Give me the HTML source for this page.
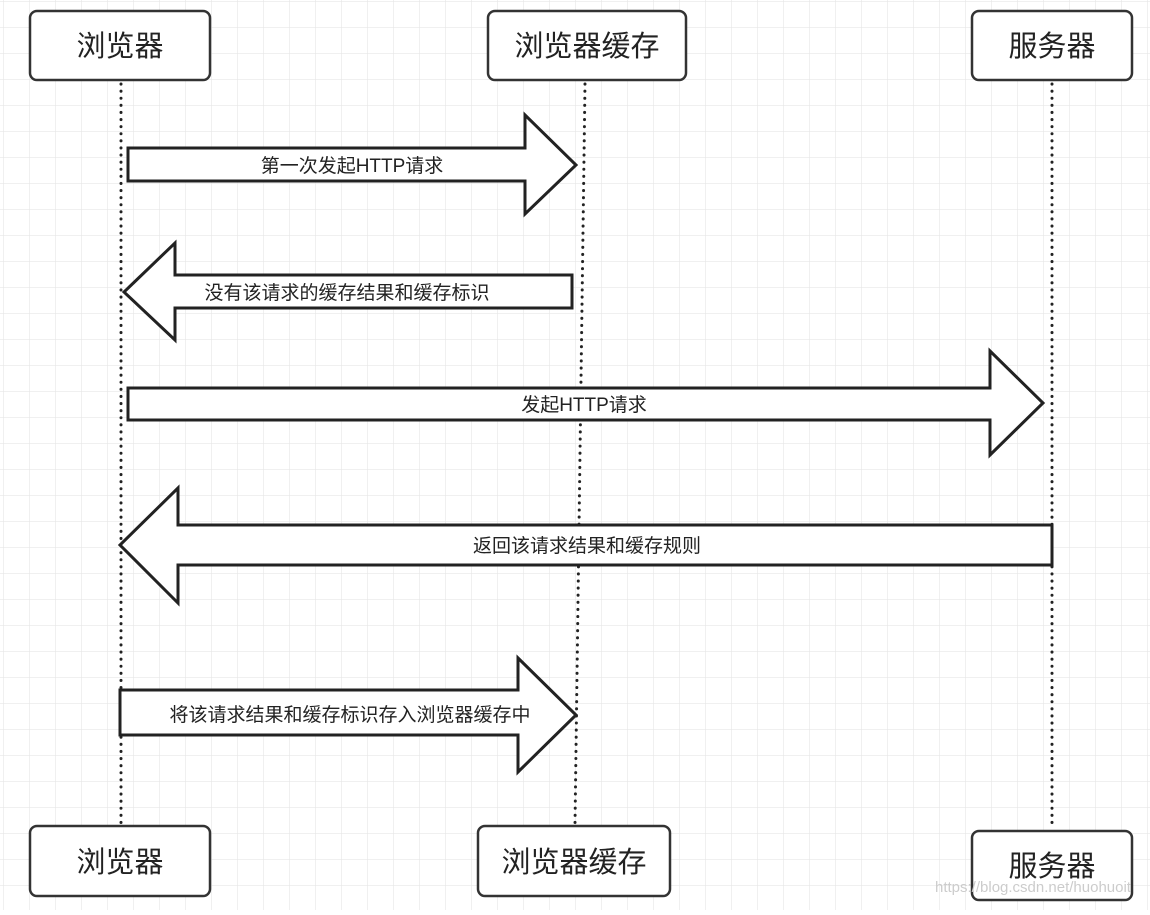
<!DOCTYPE html>
<html><head><meta charset="utf-8"><style>
html,body{margin:0;padding:0;background:#fff;}
svg text{font-family:"Liberation Sans","Noto Sans CJK SC",sans-serif;fill:#222;}
</style></head><body>
<svg width="1150" height="910" xmlns="http://www.w3.org/2000/svg">
<defs><pattern id="g" width="26" height="26" patternUnits="userSpaceOnUse" x="4" y="2">
<path d="M26 0V26M0 26H26" fill="none" stroke="#e6e6e6" stroke-width="1.2"/></pattern></defs>
<rect width="1150" height="910" fill="url(#g)"/>
<g stroke="#222" stroke-width="3" stroke-dasharray="0.1 7" stroke-linecap="round" fill="none">
<line x1="121" y1="84" x2="121" y2="824"/>
<line x1="585" y1="84" x2="575" y2="824"/>
<line x1="1052" y1="84" x2="1052" y2="828"/>
</g>
<g fill="#fff" stroke="#333" stroke-width="2.5">
<rect x="30" y="11" width="180" height="69" rx="7"/>
<rect x="488" y="11" width="198" height="69" rx="7"/>
<rect x="972" y="11" width="160" height="69" rx="7"/>
<rect x="30" y="826" width="180" height="70" rx="7"/>
<rect x="478" y="826" width="192" height="70" rx="7"/>
<rect x="972" y="831" width="160" height="69" rx="7"/>
</g>
<g font-size="29" text-anchor="middle">
<text x="120" y="56">浏览器</text>
<text x="587" y="56">浏览器缓存</text>
<text x="1052" y="56">服务器</text>
<text x="120" y="872">浏览器</text>
<text x="574" y="872">浏览器缓存</text>
<text x="1052" y="876">服务器</text>
</g>
<g fill="#fff" stroke="#222" stroke-width="3" stroke-linejoin="miter">
<polygon points="128,148 525,148 525,115 576,165 525,214 525,181 128,181"/>
<polygon points="572,275 175,275 175,243 124,292 175,340 175,308 572,308"/>
<polygon points="128,388 990,388 990,351 1043,403 990,455 990,420 128,420"/>
<polygon points="1052,525 178,525 178,488 120,545 178,603 178,565 1052,565"/>
<polygon points="120,690 518,690 518,658 576,715 518,772 518,735 120,735"/>
</g>
<g font-size="19" text-anchor="middle">
<text x="352" y="172">第一次发起HTTP请求</text>
<text x="347" y="299">没有该请求的缓存结果和缓存标识</text>
<text x="584" y="411">发起HTTP请求</text>
<text x="587" y="552">返回该请求结果和缓存规则</text>
<text x="350" y="721">将该请求结果和缓存标识存入浏览器缓存中</text>
</g>
<text x="935" y="892" font-size="15" style="fill:#ccc">https://blog.csdn.net/huohuoit</text>
</svg>
</body></html>
